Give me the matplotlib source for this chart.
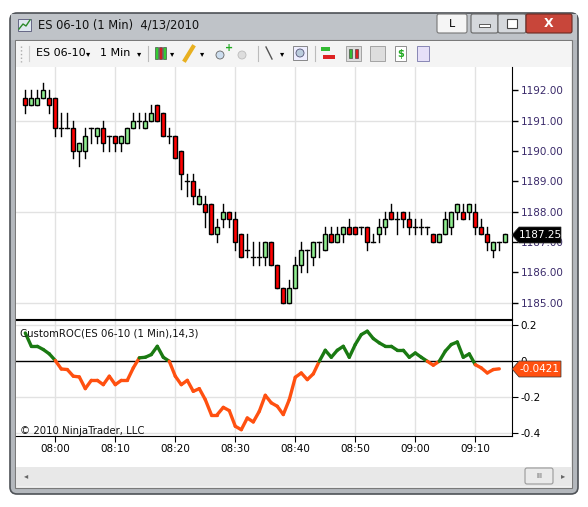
import matplotlib
matplotlib.use("Agg")
import matplotlib.pyplot as plt
from matplotlib.patches import Rectangle, FancyBboxPatch, Polygon
import numpy as np

W, H = 588, 507
opens = [1191.75,1191.5,1191.5,1191.75,1191.75,1191.75,1190.75,1190.75,1190.75,1190,
         1190,1190.75,1190.5,1190.75,1190.5,1190.5,1190.25,1190.25,1190.75,1191,
         1190.75,1191,1191.5,1191.25,1190.5,1190.5,1190,1189,1189,1188.25,
         1188.25,1188.25,1187.25,1187.75,1188,1187.75,1187.25,1186.75,1186.5,1186.5,
         1186.5,1187,1186.25,1185.5,1185,1185.5,1186.25,1186.75,1186.5,1187,
         1186.75,1187.25,1187,1187.25,1187.5,1187.5,1187.5,1187.5,1187,1187.25,
         1187.5,1188,1187.75,1188,1187.75,1187.5,1187.5,1187.5,1187.25,1187,
         1187.25,1187.5,1188,1188,1188,1188,1187.5,1187.25,1186.75,1187,1187]
highs = [1192,1192,1192,1192.25,1192,1191.75,1191.25,1191.25,1191,1190.25,
         1190.75,1190.75,1190.75,1191,1190.5,1190.5,1190.5,1190.75,1191.25,1191.25,
         1191.25,1191.5,1191.5,1191.25,1190.75,1190.5,1190,1189.25,1189.25,1188.75,
         1188.5,1188.25,1187.75,1188.25,1188,1188,1187.25,1187.25,1187,1187,
         1187,1187,1186.25,1185.5,1185.75,1186.5,1187,1186.75,1187,1187,
         1187.5,1187.5,1187.5,1187.5,1187.75,1187.5,1187.5,1187.5,1187.25,1187.75,
         1188,1188.25,1188,1188,1188,1187.75,1187.75,1187.5,1187.25,1187.25,
         1188,1188,1188.25,1188.25,1188.25,1188.25,1187.75,1187.5,1187,1187,1187.25]
lows = [1191.25,1191.5,1191.5,1191.75,1191.25,1190.5,1190.5,1190.75,1189.75,1189.5,
        1189.75,1190.25,1190.25,1190,1190,1190,1190,1190.25,1190.75,1190.75,
        1190.75,1191,1191,1190.5,1190.25,1189.75,1188.75,1188.5,1188.25,1188.25,
        1187.5,1187.25,1187,1187.5,1187.5,1186.75,1186.5,1186.5,1186.25,1186.25,
        1186.25,1186.25,1185.5,1185,1185,1185.5,1186,1186,1186.25,1186.5,
        1186.75,1187,1187,1187,1187.25,1187.25,1187.25,1186.75,1187,1187,
        1187.25,1187.75,1187.25,1187.5,1187.25,1187.25,1187.25,1187.25,1187,1187,
        1187.25,1187.25,1187.75,1187.75,1187.75,1187.25,1187.25,1186.75,1186.5,1186.75,1187]
closes = [1191.5,1191.75,1191.75,1192,1191.5,1190.75,1190.75,1190.75,1190,1190.25,
          1190.5,1190.75,1190.75,1190.25,1190.5,1190.25,1190.5,1190.75,1191,1191,
          1191,1191.25,1191,1190.5,1190.5,1189.75,1189.25,1189,1188.5,1188.5,
          1188,1187.25,1187.5,1188,1187.75,1187,1186.5,1186.75,1186.5,1186.5,
          1187,1186.25,1185.5,1185,1185.5,1186.25,1186.75,1186.75,1187,1187,
          1187.25,1187,1187.25,1187.5,1187.25,1187.25,1187.5,1187,1187,1187.5,
          1187.75,1187.75,1187.75,1187.75,1187.5,1187.5,1187.5,1187.5,1187,1187.25,
          1187.75,1188,1188.25,1187.75,1188.25,1187.5,1187.25,1187,1187,1187,1187.25]
roc = [0.157,0.083,0.083,0.065,0.041,0.004,-0.043,-0.046,-0.083,-0.087,
       -0.152,-0.106,-0.106,-0.13,-0.083,-0.13,-0.106,-0.106,-0.037,0.019,
       0.022,0.037,0.083,0.022,0.0,-0.083,-0.13,-0.106,-0.167,-0.152,
       -0.213,-0.296,-0.296,-0.256,-0.274,-0.361,-0.38,-0.315,-0.337,-0.278,
       -0.189,-0.231,-0.25,-0.296,-0.213,-0.089,-0.065,-0.102,-0.07,0.0,
       0.061,0.022,0.061,0.083,0.022,0.093,0.148,0.167,0.126,0.102,
       0.083,0.083,0.061,0.061,0.022,0.046,0.022,0.0,-0.022,0.0,
       0.056,0.093,0.107,0.022,0.041,-0.019,-0.037,-0.065,-0.046,-0.0421]
time_labels = ["08:00","08:10","08:20","08:30","08:40","08:50","09:00","09:10"]
price_ticks = [1185,1186,1187,1188,1189,1190,1191,1192]
price_grid = [1185,1188,1191]
roc_ticks = [0.2,0,-0.2,-0.4]

plt.rcParams['font.family'] = ['DejaVu Sans']
fig = plt.figure(figsize=(W/100, H/100), dpi=100)
fig.patch.set_facecolor('white')

def rect(x0, y0, x1, y1):
    return [x0/W, 1-y1/H, (x1-x0)/W, (y1-y0)/H]

bg = fig.add_axes([0,0,1,1]); bg.set_xlim(0,W); bg.set_ylim(H,0); bg.axis('off')
bg.add_patch(FancyBboxPatch((10,13),568,481,boxstyle="round,pad=0,rounding_size=7",
             fc='#b4b8bd', ec='#4f5358', lw=1.2))
bg.add_patch(Rectangle((11,14),566,26,fc='#bfc3c8',ec='none'))
bg.add_patch(Rectangle((15,40),557,448,fc='#f0f0f0',ec='#7a7a7a',lw=0.8))
bg.add_patch(Rectangle((16,41),555,26,fc='#f4f4f4',ec='none'))
bg.text(38,25,"ES 06-10 (1 Min)  4/13/2010",fontsize=8.3,va='center',color='#111')
bg.add_patch(Rectangle((18,19),13,12,fc='#dfe8f0',ec='#557',lw=0.6))
bg.plot([19,23,26,30],[29,24,26,20],color='#2a8a2a',lw=1)
bg.add_patch(FancyBboxPatch((437,14),30,19,boxstyle="round,pad=0,rounding_size=2",fc='#f5f5f5',ec='#777',lw=0.8))
bg.text(452,24,"L",fontsize=8,ha='center',va='center')
bg.add_patch(FancyBboxPatch((471,14),27,19,boxstyle="round,pad=0,rounding_size=2",fc='#d5d8dc',ec='#666',lw=0.8))
bg.add_patch(Rectangle((479,24),11,3,fc='white',ec='#444',lw=0.6))
bg.add_patch(FancyBboxPatch((498,14),28,19,boxstyle="round,pad=0,rounding_size=2",fc='#d5d8dc',ec='#666',lw=0.8))
bg.add_patch(Rectangle((507,19),10,9,fc='white',ec='#444',lw=0.8))
bg.add_patch(FancyBboxPatch((526,14),46,19,boxstyle="round,pad=0,rounding_size=2",fc='#c8463a',ec='#6b2a22',lw=0.8))
bg.text(549,23.5,"X",fontsize=9,ha='center',va='center',color='white',fontweight='bold')
# toolbar
bg.plot([21,21],[46,62],color='#aaa',lw=1,ls=':')
bg.plot([29,29],[46,61],color='#ccc',lw=0.8)
bg.text(36,53,"ES 06-10",fontsize=8,va='center')
bg.text(86,53.5,"▾",fontsize=6,va='center')
bg.text(100,53,"1 Min",fontsize=8,va='center')
bg.text(137,53.5,"▾",fontsize=6,va='center')
for xs in [148,258,315]:
    bg.plot([xs,xs],[46,61],color='#bbb',lw=0.8)
for k,c in enumerate(['#3c3','#c22','#3c3']):
    bg.add_patch(Rectangle((155+k*4,47),3,12,fc=c,ec='#333',lw=0.4))
bg.text(170,53.5,"▾",fontsize=6,va='center')
bg.plot([185,193],[60,47],color='#e8b020',lw=3)
bg.text(200,53.5,"▾",fontsize=6,va='center')
bg.add_patch(plt.Circle((220,55),4,fc='#cde',ec='#666',lw=0.6))
bg.text(225,48,"+",fontsize=7,color='#2a2',va='center',fontweight='bold')
bg.add_patch(plt.Circle((242,55),4,fc='#ddd',ec='#bbb',lw=0.6))
bg.plot([266,272],[47,59],color='#555',lw=1)
bg.text(280,53.5,"▾",fontsize=6,va='center')
bg.add_patch(Rectangle((293,46),14,14,fc='#eef',ec='#777',lw=0.6))
bg.add_patch(plt.Circle((300,53),4,fc='#bcd',ec='#557',lw=0.6))
bg.add_patch(Rectangle((321,47),9,4,fc='#3b3',ec='none'))
bg.add_patch(Rectangle((323,55),12,4,fc='#d22',ec='none'))
bg.add_patch(Rectangle((346,46),15,15,fc='#ddd',ec='#888',lw=0.5))
bg.add_patch(Rectangle((349,49),3,9,fc='#3b3',ec='#333',lw=0.4))
bg.add_patch(Rectangle((355,49),3,9,fc='#d22',ec='#333',lw=0.4))
bg.add_patch(Rectangle((370,46),15,15,fc='#ddd',ec='#888',lw=0.5))
bg.add_patch(Rectangle((395,46),11,15,fc='white',ec='#666',lw=0.5))
bg.text(400.5,54,"$",fontsize=7,color='#2a2',ha='center',va='center',fontweight='bold')
bg.add_patch(Rectangle((417,46),12,15,fc='#e6e0f8',ec='#77a',lw=0.6))
bg.add_patch(Rectangle((16,67),555,400,fc='white',ec='none'))
bg.add_patch(Rectangle((16,467),555,19,fc='#e8e8e8',ec='none'))
bg.text(24,476,"◂",fontsize=6,va='center',color='#666')
bg.text(561,476,"▸",fontsize=6,va='center',color='#666')
bg.add_patch(FancyBboxPatch((525,468),28,16,boxstyle="round,pad=0,rounding_size=2",fc='#eaeaea',ec='#999',lw=0.8))
bg.text(539,476,"III",fontsize=5,ha='center',va='center',color='#555')

n = len(opens)
idx = np.arange(n)
xl = (-1.55, 81.12)
minute_pos = [5+10*k for k in range(len(time_labels))]

ax = fig.add_axes(rect(16,67,512,319))
ax.set_xlim(*xl); ax.set_ylim(1184.47,1192.76)
for t in price_grid:
    ax.axhline(t,color='#e2e2e2',lw=1,zorder=0)
for m in minute_pos:
    ax.axvline(m,color='#e2e2e2',lw=1,zorder=0)
bw = 0.7
for i in idx:
    o,h,l,c = opens[i],highs[i],lows[i],closes[i]
    ax.plot([i,i],[l,h],color='black',lw=1,zorder=2)
    if c == o:
        ax.plot([i-bw/2,i+bw/2],[c,c],color='black',lw=1,zorder=3)
    else:
        col = '#90ee90' if c > o else '#ff0000'
        ax.add_patch(Rectangle((i-bw/2,min(o,c)),bw,abs(c-o),fc=col,ec='black',lw=1,zorder=3))
ax.yaxis.tick_right()
ax.set_yticks(price_ticks)
ax.set_yticklabels([f"{t:.2f}" for t in price_ticks],color='#3a2a6a',fontsize=7.5)
ax.set_xticks([])
for s in ['top','left']:
    ax.spines[s].set_visible(False)
ax.tick_params(axis='y',length=4,width=1,pad=2)

ax2 = fig.add_axes(rect(16,320,512,436))
ax2.set_xlim(*xl); ax2.set_ylim(-0.415,0.229)
for t in [0.2,-0.2,-0.4]:
    ax2.axhline(t,color='#e2e2e2',lw=1,zorder=0)
for m in minute_pos:
    ax2.axvline(m,color='#e2e2e2',lw=1,zorder=0)
ax2.axhline(0,color='black',lw=1,zorder=1)
for i in range(len(roc)-1):
    y0, y1 = roc[i], roc[i+1]
    col = '#1a7a12' if (y0+y1)/2 >= 0 else '#ff5010'
    ax2.plot([i,i+1],[y0,y1],color=col,lw=2.4,solid_capstyle='round',zorder=3)
ax2.yaxis.tick_right()
ax2.set_yticks(roc_ticks)
ax2.set_yticklabels(["0.2","0","-0.2","-0.4"],fontsize=7.5)
ax2.set_xticks(minute_pos)
ax2.set_xticklabels(time_labels,fontsize=7.5)
ax2.tick_params(axis='x',length=4,pad=2)
ax2.tick_params(axis='y',length=4,pad=2)
ax2.spines['left'].set_visible(False)
ax2.text(0.008,0.86,"CustomROC(ES 06-10 (1 Min),14,3)",transform=ax2.transAxes,fontsize=7.3,color='#111')
ax2.text(0.008,0.02,"© 2010 NinjaTrader, LLC",transform=ax2.transAxes,fontsize=7.3,color='#111')

top = fig.add_axes([0,0,1,1]); top.set_xlim(0,W); top.set_ylim(H,0); top.axis('off')
top.patch.set_alpha(0)
def tag(y, txt, fc):
    top.add_patch(Polygon([[512,y],[519,y-8],[561,y-8],[561,y+8],[519,y+8]],closed=True,fc=fc,ec='#333',lw=0.5,zorder=5))
    top.text(540,y,txt,color='white',fontsize=7.5,ha='center',va='center',zorder=6)
tag(235,"1187.25",'black')
tag(369,"-0.0421",'#ff5010')

fig.savefig("out.png",dpi=100)
